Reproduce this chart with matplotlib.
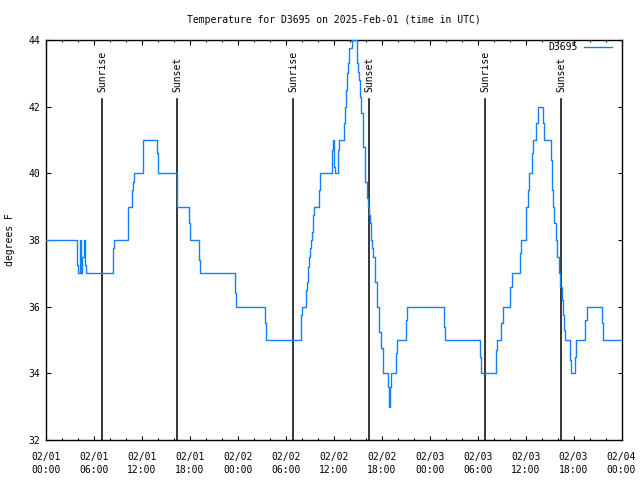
import matplotlib
matplotlib.use("Agg")
import matplotlib.pyplot as plt

# ---- data (hours since 2025-02-01 00:00 UTC, temperature in F) ----
hours = [0.00, 3.76, 3.92, 4.01, 4.22, 4.34, 4.43, 4.55, 4.76, 4.93, 5.01,
         8.26, 8.40, 8.47, 10.02, 10.23, 10.30, 10.64, 10.77, 10.90, 11.02,
         12.02, 12.10, 12.14, 13.73, 13.85, 14.00, 16.27, 16.33, 16.40, 17.77,
         17.90, 18.05, 19.03, 19.15, 19.27, 23.53, 23.65, 23.78, 27.33, 27.45,
         27.54, 31.84, 31.96, 32.09, 32.38, 32.50, 32.65, 32.80, 32.95, 33.05,
         33.20, 33.30, 33.45, 33.54, 34.00, 34.15, 34.29, 35.72, 35.80, 35.95,
         36.05, 36.10, 36.40, 36.50, 36.67, 37.14, 37.25, 37.35, 37.50, 37.63,
         37.80, 37.95, 38.30, 38.72, 38.85, 38.93, 39.09, 39.22, 39.34, 39.47,
         39.60, 39.72, 39.85, 39.97, 40.10, 40.27, 40.39, 40.51, 40.64, 40.76,
         40.97, 41.10, 41.22, 41.35, 41.47, 41.60, 41.72, 41.85, 41.97, 42.18,
         42.68, 42.80, 42.93, 43.05, 43.18, 43.64, 43.80, 43.93, 44.93, 45.05,
         45.18, 49.69, 49.82, 49.94, 54.19, 54.30, 54.44, 56.20, 56.30, 56.40,
         56.83, 56.95, 57.20, 57.90, 58.05, 58.25, 59.20, 59.32, 59.44, 59.83,
         60.00, 60.10, 60.25, 60.45, 60.60, 60.75, 60.90, 61.10, 61.30, 61.60,
         62.17, 62.23, 62.29, 63.04, 63.17, 63.25, 63.35, 63.45, 63.58, 63.75,
         63.96, 64.20, 64.35, 64.50, 64.71, 64.85, 64.96, 65.46, 65.60, 65.71,
         66.10, 66.20, 66.34, 67.34, 67.45, 67.71, 69.46, 69.60, 69.71, 72.00]
temps = [38, 38, 37.25, 37, 38, 37.2, 37, 37.5, 38, 37.25, 37,
         37, 37.75, 38, 38, 38.75, 39, 39, 39.5, 39.75, 40,
         40, 40.5, 41, 41, 40.6, 40, 40, 39.3, 39, 39,
         38.5, 38, 38, 37.4, 37, 37, 36.4, 36, 36, 35.5,
         35, 35, 35.75, 36, 36, 36.5, 36.75, 37.2, 37.5, 37.75,
         38, 38.25, 38.75, 39, 39, 39.5, 40, 40, 40.7, 41,
         40.2, 40, 40, 40.7, 41, 41, 41.5, 42, 42.5, 43,
         43.3, 43.75, 44, 44, 43.75, 43.3, 43.05, 42.8, 42.3, 41.8,
         41.3, 40.8, 40.3, 39.75, 39.25, 39.0, 38.75, 38.5, 38.0, 37.75,
         37.5, 37.25, 36.75, 36.25, 36.0, 35.75, 35.25, 35.0, 34.75, 34.0,
         34, 33.6, 33.0, 33.6, 34, 34, 34.6, 35, 35, 35.6,
         36, 36, 35.4, 35, 35, 34.5, 34, 34, 34.7, 35,
         35, 35.5, 36, 36, 36.6, 37, 37, 37.6, 38, 38,
         38.6, 39, 39.5, 40, 40, 40.6, 41, 41, 41.5, 42,
         42, 41.5, 41, 41, 40.4, 40, 39.5, 39, 38.5, 38,
         37.5, 37, 36.6, 36.2, 35.75, 35.3, 35, 35, 34.4, 34,
         34, 34.5, 35, 35, 35.6, 36, 36, 35.5, 35, 35]

sun_hours = [7.01, 16.40, 30.92, 40.43, 54.94, 64.46]
sun_labels = ["Sunrise", "Sunset", "Sunrise", "Sunset", "Sunrise", "Sunset"]

xtick_hours = [0, 6, 12, 18, 24, 30, 36, 42, 48, 54, 60, 66, 72]
xtick_labels = ["02/01\n00:00", "02/01\n06:00", "02/01\n12:00", "02/01\n18:00",
                "02/02\n00:00", "02/02\n06:00", "02/02\n12:00", "02/02\n18:00",
                "02/03\n00:00", "02/03\n06:00", "02/03\n12:00", "02/03\n18:00",
                "02/04\n00:00"]
ytick_vals = [32, 34, 36, 38, 40, 42, 44]

title = "Temperature for D3695 on 2025-Feb-01 (time in UTC)"
series_name = "D3695"

# ---- plotting ----
plt.rcParams['font.family'] = ['DejaVu Sans Mono']
FS = 7

fig = plt.figure(figsize=(6.4, 4.8), dpi=100)
ax = fig.add_axes([46 / 640, 1 - 440 / 480, (621.5 - 46) / 640, 400 / 480])

ax.plot(hours, temps, color='#1080ff', lw=1.0, label=series_name, zorder=3,
        drawstyle='steps-post')

for h, lab in zip(sun_hours, sun_labels):
    ax.plot([h, h], [32, 42.23], color='black', lw=1.1, zorder=2)
    ax.text(h, 42.44, lab, rotation=90, ha='center', va='bottom', fontsize=FS)

ax.set_xlim(0, 72)
ax.set_ylim(32, 44)
ax.set_xticks(xtick_hours)
ax.set_xticklabels(xtick_labels, linespacing=1.35)
ax.set_xticks([h for h in range(0, 73, 2) if h % 6 != 0], minor=True)
ax.set_yticks(ytick_vals)
ax.set_yticklabels([str(v) for v in ytick_vals])

ax.tick_params(axis='both', which='major', direction='in', length=4.5 * 0.72,
               width=0.8, labelsize=FS, top=True, right=True)
ax.tick_params(axis='both', which='minor', direction='in', length=2.5 * 0.72,
               width=0.8, top=True, right=False)
ax.tick_params(axis='y', which='minor', left=False, right=False)
ax.tick_params(axis='x', which='major', pad=8.5)
ax.tick_params(axis='y', which='major', pad=4.3)

for s in ax.spines.values():
    s.set_linewidth(1.0)

ax.set_ylabel("degrees F", fontsize=FS)
ax.yaxis.set_label_coords(-(46 - 15) / 575.5, 0.5)
fig.text(333.5 / 640, 1 - 20 / 480, title, ha='center', va='center', fontsize=FS)

ax.legend(loc='upper right', bbox_to_anchor=(612 / 640, 1 - 42 / 480),
          bbox_transform=fig.transFigure, frameon=False, fontsize=FS,
          markerfirst=False, handlelength=2.9, handletextpad=0.6,
          borderpad=0, borderaxespad=0)

fig.savefig("out.png", dpi=100)
